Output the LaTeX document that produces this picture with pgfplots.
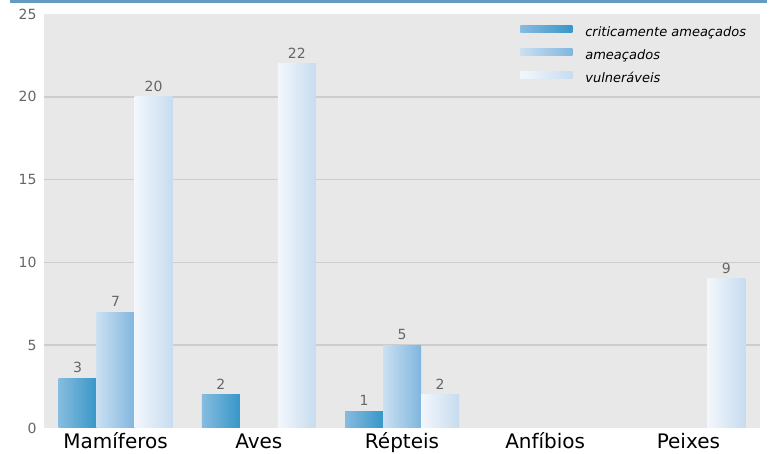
\documentclass[border=0pt]{standalone}
\usepackage{fontspec}
\setmainfont{DejaVu Sans}
\usepackage{pgfplots}
\pgfplotsset{compat=1.18}
\definecolor{topblue}{HTML}{649BBE}
\definecolor{bggray}{HTML}{E8E8E8}
\definecolor{gridgray}{HTML}{CDCDCD}
\definecolor{numgray}{HTML}{666666}
\definecolor{critL}{HTML}{86BCE0}
\definecolor{critR}{HTML}{3896C8}
\definecolor{ameaL}{HTML}{CBE0F2}
\definecolor{ameaR}{HTML}{80B6DE}
\definecolor{vulnL}{HTML}{F3F7FC}
\definecolor{vulnR}{HTML}{C6DCEF}
\pgfplotsset{
  crit/.style={draw=none, left color=critL, right color=critR, bar shift=-38pt,
    legend image code/.code={\shade[left color=critL, right color=critR] (0pt,0pt) rectangle (52pt,7pt);}},
  amea/.style={draw=none, left color=ameaL, right color=ameaR, bar shift=0pt,
    legend image code/.code={\shade[left color=ameaL, right color=ameaR] (0pt,0pt) rectangle (52pt,7pt);}},
  vuln/.style={draw=none, left color=vulnL, right color=vulnR, bar shift=38pt,
    legend image code/.code={\shade[left color=vulnL, right color=vulnR] (0pt,0pt) rectangle (52pt,7pt);}},
}
\begin{document}
\begin{tikzpicture}[x=1pt,y=1pt]
\useasboundingbox (0,0) rectangle (775,454);
\fill[white] (0,0) rectangle (775,454);
\fill[topblue] (10,451) rectangle (767,454);
\begin{axis}[
  at={(44pt,26pt)}, anchor=south west,
  scale only axis, width=716pt, height=414pt,
  xmin=-0.5, xmax=4.5, ymin=0, ymax=25,
  axis background/.style={fill=bggray},
  axis line style={draw=none},
  major tick length=0pt,
  xtick={0,1,2,3,4},
  xticklabels={Mamíferos,Aves,Répteis,Anfíbios,Peixes},
  ytick={0,5,10,15,20,25},
  /pgf/number format/assume math mode=true,
  yticklabel style={font=\fontsize{14}{14}\selectfont, text=numgray, xshift=-4pt},
  xticklabel style={font=\fontsize{20}{20}\selectfont, text=black, anchor=base, yshift=-21pt},
  extra y ticks={5,10,15,20},
  extra y tick labels={},
  extra y tick style={grid=major},
  major grid style={draw=gridgray, line width=1.5pt},
  ybar=0pt, bar width=38pt,
  nodes near coords,
  nodes near coords style={font=\fontsize{14}{14}\selectfont, text=numgray, anchor=south, yshift=2pt},
  legend cell align=left,
  legend style={at={(0.665,0.972)}, anchor=north west, draw=none, fill=none, inner sep=0pt,
    row sep=9.5pt, font=\fontsize{13}{13}\selectfont\itshape,
    nodes={inner sep=0pt, text height=10pt, text depth=3pt},
    /tikz/every odd column/.append style={column sep=13pt}},
]
% criticamente ameacados
\addplot[crit] coordinates {(0,3)};
\addplot[amea] coordinates {(0,7)};
\addplot[vuln] coordinates {(0,20)};
\legend{criticamente ameaçados, ameaçados, vulneráveis}
\addplot[crit, forget plot] coordinates {(1,2)};
\addplot[crit, forget plot] coordinates {(2,1)};
% ameacados
\addplot[amea, forget plot] coordinates {(2,5)};
% vulneraveis
\addplot[vuln, forget plot] coordinates {(1,22)};
\addplot[vuln, forget plot] coordinates {(2,2)};
\addplot[vuln, forget plot] coordinates {(4,9)};
\end{axis}
\end{tikzpicture}
\end{document}
